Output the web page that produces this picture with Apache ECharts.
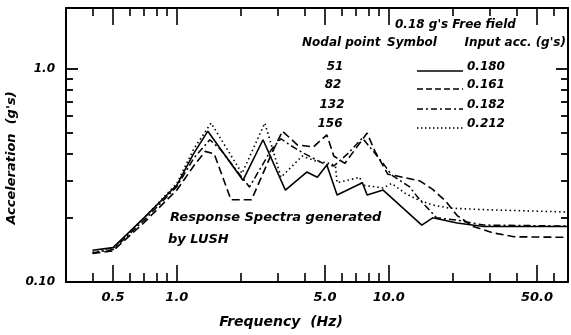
<!DOCTYPE html>
<html>
<head>
<meta charset="utf-8">
<script src="https://cdn.jsdelivr.net/npm/echarts@6/dist/echarts.min.js"></script>
<style>
html,body{margin:0;padding:0;background:#fff;}
#c{width:571px;height:335px;}
</style>
</head>
<body>
<div id="c"></div>
<script>
// ---- data ----
const xMajorTicks = [0.5, 1, 5, 10, 50];
const xMinorTicks = [0.4, 0.6, 0.7, 0.8, 0.9, 2, 3, 4, 6, 7, 8, 9, 20, 30, 40, 60, 70];
const yMajorTicks = [0.1, 1.0];
const yMinorTicks = [0.2, 0.3, 0.4, 0.5, 0.6, 0.7, 0.8, 0.9];
const xTickLabels = ['0.5', '1.0', '5.0', '10.0', '50.0'];
const yTickLabels = ['0.10', '1.0'];

const nodalPoints = ['51', '82', '132', '156'];
const inputAcc = ['0.180', '0.161', '0.182', '0.212'];

// Node 51 (solid)
const freq51 = [0.4, 0.5, 0.7, 1.0, 1.2, 1.4, 2.05, 2.55, 3.25, 4.1, 4.6, 5.1, 5.7, 7.5, 7.9, 9.4, 14.3, 16.1, 21, 28, 70];
const acc51  = [0.141, 0.145, 0.2, 0.285, 0.4, 0.51, 0.30, 0.465, 0.27, 0.328, 0.31, 0.354, 0.256, 0.292, 0.256, 0.27, 0.185, 0.2, 0.189, 0.182, 0.182];
// Node 82 (dashed)
const freq82 = [0.4, 0.5, 0.7, 1.0, 1.2, 1.36, 1.5, 1.8, 2.25, 2.8, 3.15, 3.7, 4.4, 5.1, 5.5, 6.2, 7.9, 8.6, 9.9, 10.3, 14, 16.1, 18.5, 21, 25, 31, 39, 70];
const acc82  = [0.136, 0.14, 0.19, 0.27, 0.35, 0.41, 0.40, 0.243, 0.243, 0.40, 0.51, 0.44, 0.43, 0.49, 0.39, 0.36, 0.5, 0.41, 0.32, 0.318, 0.298, 0.272, 0.24, 0.205, 0.182, 0.17, 0.163, 0.162];
// Node 132 (dash-dot)
const freq132 = [0.4, 0.5, 0.7, 1.0, 1.2, 1.43, 1.6, 2.2, 2.8, 3.1, 3.4, 4.0, 4.9, 5.5, 6.4, 7.5, 9.4, 10.3, 12.5, 14, 16.8, 21, 28, 70];
const acc132  = [0.137, 0.142, 0.195, 0.28, 0.38, 0.465, 0.42, 0.279, 0.42, 0.47, 0.44, 0.40, 0.36, 0.35, 0.40, 0.474, 0.36, 0.318, 0.28, 0.243, 0.2, 0.195, 0.185, 0.183];
// Node 156 (dotted)
const freq156 = [0.4, 0.5, 0.7, 1.0, 1.2, 1.45, 2.03, 2.6, 3.1, 3.9, 4.5, 5.3, 5.6, 5.7, 7.3, 7.5, 9.4, 10.3, 12, 13.5, 16, 19.4, 30, 70];
const acc156  = [0.138, 0.143, 0.2, 0.29, 0.42, 0.557, 0.323, 0.557, 0.31, 0.39, 0.37, 0.36, 0.35, 0.292, 0.31, 0.285, 0.276, 0.29, 0.26, 0.245, 0.23, 0.222, 0.218, 0.213];

// ---- build ----
function pairs(f, a){ return f.map((v,i)=>[v, a[i]]); }
const FONT = '"DejaVu Sans", sans-serif';
const lineStyles = [
  {type:'solid', width:1.6},
  {type:[8,4], width:1.6},
  {type:[7,3,2,3], width:1.5},
  {type:[1.5,3], width:1.6}
];
const seriesData = [pairs(freq51, acc51), pairs(freq82, acc82), pairs(freq132, acc132), pairs(freq156, acc156)];

function xAxisDef(pos, ticks, len, showLine, labels){
  return {
    type:'log', logBase:10, min:0.3, max:70, position:pos,
    axisLine:{show:showLine, lineStyle:{color:'#000', width:2}},
    axisTick:{show:true, inside:true, length:len, customValues:ticks, lineStyle:{color:'#000', width:1.6}},
    axisLabel:labels ? {show:true, customValues:xMajorTicks, margin:9,
      formatter:(v)=>{ let i=xMajorTicks.findIndex(t=>Math.abs(t-v)/t<1e-6); return i>=0?xTickLabels[i]:''; },
      color:'#000', fontFamily:FONT, fontStyle:'italic', fontWeight:'bold', fontSize:13} : {show:false},
    splitLine:{show:false}
  };
}
function yAxisDef(pos, ticks, len, showLine, labels){
  return {
    type:'log', logBase:10, min:0.1, max:1.93, position:pos,
    axisLine:{show:showLine, lineStyle:{color:'#000', width:2}},
    axisTick:{show:true, inside:true, length:len, customValues:ticks, lineStyle:{color:'#000', width:1.8}},
    axisLabel:labels ? {show:true, customValues:yMajorTicks, margin:11,
      formatter:(v)=> v < 0.3 ? yTickLabels[0] : yTickLabels[1],
      color:'#000', fontFamily:FONT, fontStyle:'italic', fontWeight:'bold', fontSize:12} : {show:false},
    splitLine:{show:false}
  };
}

const txt = (text, x, y, opts={}) => ({
  type:'text', x:x, y:y, rotation:opts.rotation||0, silent:true,
  style:{text:text, x:0, y:0, fill:'#000',
    font:'italic bold '+(opts.size||12)+'px '+FONT,
    textAlign:opts.align||'left', textVerticalAlign:'middle'}
});

const graphics = [
  txt("Acceleration  (g's)", 12, 158, {rotation:Math.PI/2, align:'center', size:13}),
  txt("Frequency  (Hz)", 281, 322, {align:'center', size:14}),
  txt("Response Spectra generated", 170, 218, {size:13}),
  txt("by LUSH", 168, 240, {size:13}),
  txt("0.18 g's Free field", 395, 25, {size:12}),
  txt("Nodal point", 302, 43, {size:12}),
  txt("Symbol", 387, 43, {size:12}),
  txt("Input acc. (g's)", 566, 43, {size:12, align:'right'})
];
const rowY = [67, 85, 105, 124];
const rowX = [335, 333, 332, 330];
nodalPoints.forEach((n,i)=>{
  graphics.push(txt(n, rowX[i], rowY[i], {align:'center', size:12}));
  graphics.push(txt(inputAcc[i], 467, rowY[i], {size:12}));
  const ls = lineStyles[i];
  graphics.push({type:'line', silent:true,
    shape:{x1:417, y1:rowY[i]+4, x2:463, y2:rowY[i]+4},
    style:{stroke:'#000', lineWidth:1.4, lineDash: ls.type==='solid'?null:(i===1?[6,3]:(i===2?[6,3,2,3]:[1.5,2.5]))}});
});

const chart = echarts.init(document.getElementById('c'), null, {renderer:'canvas'});
chart.setOption({
  animation:false,
  backgroundColor:'#fff',
  grid:{left:66, right:3, top:8, bottom:53, containLabel:false},
  xAxis:[
    xAxisDef('bottom', xMajorTicks, 17, true, true),
    xAxisDef('bottom', xMinorTicks, 9, false, false),
    xAxisDef('top', xMajorTicks, 17, true, false),
    xAxisDef('top', xMinorTicks, 8, false, false)
  ],
  yAxis:[
    yAxisDef('left', yMajorTicks, 12, true, true),
    yAxisDef('left', yMinorTicks, 7, false, false),
    yAxisDef('right', yMajorTicks, 12, true, false),
    yAxisDef('right', yMinorTicks, 7, false, false)
  ],
  series: seriesData.map((d,i)=>({
    type:'line', name:nodalPoints[i], data:d, xAxisIndex:0, yAxisIndex:0,
    symbol:'none', smooth:false,
    lineStyle:{color:'#000', width:lineStyles[i].width, type:lineStyles[i].type}
  })),
  graphic: graphics
});
</script>
</body>
</html>
